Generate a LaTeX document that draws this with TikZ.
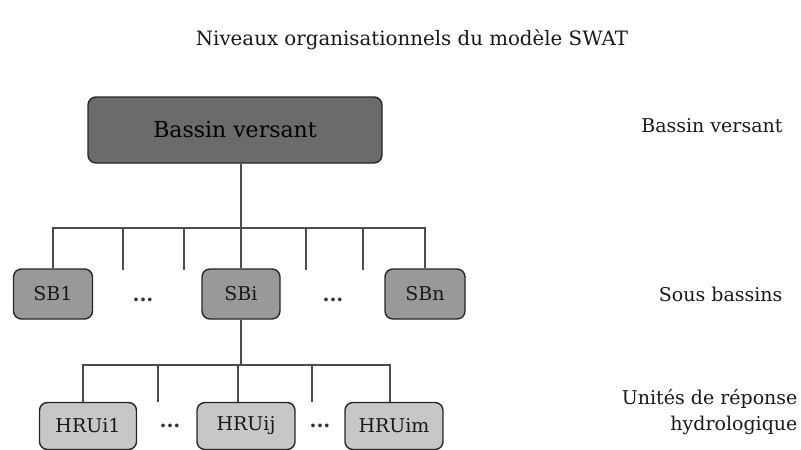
\documentclass[tikz,border=0pt]{standalone}
\usepackage{fontspec}
\setmainfont{DejaVu Serif}
\begin{document}
\begin{tikzpicture}[x=1pt,y=-1pt,
    boite/.style={draw=black!85,line width=1.4pt,rounded corners=8pt,inner sep=0pt},
    lien/.style={draw=black!70,line width=1.8pt},
    texte/.style={font=\fontsize{19}{26}\selectfont,text=black!90},
    points/.style={font=\fontsize{20}{22}\selectfont\bfseries,text=black!80}]
        \useasboundingbox (0,0) rectangle (801,450);

        % titre
        \node[texte,font=\fontsize{19.8}{26}\selectfont] (titre) at (412,40) {Niveaux organisationnels du modèle SWAT};

        % bassin versant
        \node[boite,fill=black!58,minimum width=294pt,minimum height=66pt,
              font=\fontsize{22}{26}\selectfont] (bv) at (235,130) {Bassin versant};

        % sous bassins
        \node[boite,fill=black!40,minimum width=79pt,minimum height=50pt,texte] (sb1) at (53,294) {SB1};
        \node[boite,fill=black!40,minimum width=78pt,minimum height=50pt,texte] (sbi) at (241,294) {SBi};
        \node[boite,fill=black!40,minimum width=80pt,minimum height=50pt,texte] (sbn) at (425,294) {SBn};
        \node[points] (p1) at (143,300) {...};
        \node[points] (p2) at (333,300) {...};

        % unites de reponse hydrologique
        \node[boite,fill=black!22,minimum width=97pt,minimum height=47pt,texte] (hru1) at (88,426) {HRUi1};
        \node[boite,fill=black!22,minimum width=98pt,minimum height=47pt,texte] (hruj) at (246,426) {HRUij};
        \node[boite,fill=black!22,minimum width=98pt,minimum height=47pt,texte] (hrum) at (394,426) {HRUim};
        \node[points] (p3) at (170,426) {...};
        \node[points] (p4) at (320,426) {...};

        % niveaux a droite
        \node[texte,anchor=east] (n1) at (786,126) {Bassin versant};
        \node[texte,anchor=east] (n2) at (786,294) {Sous bassins};
        \node[texte,anchor=east,align=right] (n3) at (801,412) {Unités de réponse\\hydrologique};

        % liens du bassin vers les sous bassins
        \coordinate (b0) at (241,228);
        \draw[lien] (b0 |- bv.south) -- (b0);
        \draw[lien] (sb1.north) -- (sb1.north |- b0) -- (sbn.north |- b0) -- (sbn.north);
        \draw[lien] (sbi.north) -- (b0);
        \foreach \x [count=\i] in {123,184,306,363}
            \coordinate (t\i) at (\x,228);
        \foreach \i in {1,...,4}
            \draw[lien] (t\i) -- ++(0,42);

        % liens du sous bassin i vers les HRU
        \coordinate (h0) at (241,365);
        \coordinate (h1) at (83,365);
        \coordinate (hj) at (238,365);
        \coordinate (hm) at (390,365);
        \draw[lien] (sbi.south) -- (h0);
        \draw[lien] (h1 |- hru1.north) -- (h1) -- (hm) -- (hm |- hrum.north);
        \draw[lien] (hj) -- (hj |- hruj.north);
        \foreach \x [count=\i] in {158,312}
            \coordinate (u\i) at (\x,365);
        \foreach \i in {1,2}
            \draw[lien] (u\i) -- ++(0,37);
\end{tikzpicture}
\end{document}
